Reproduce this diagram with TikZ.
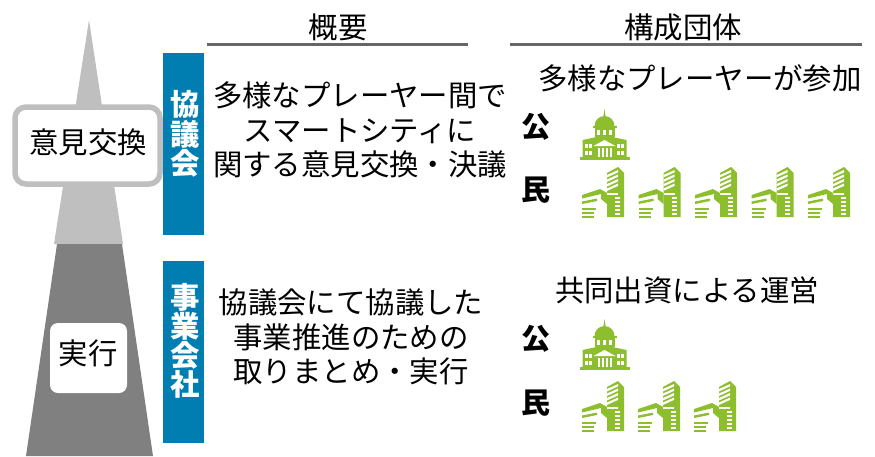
\documentclass[tikz,border=0pt]{standalone}
\usepackage{fontspec}
\setmainfont{Noto Sans CJK JP}
\definecolor{barblue}{HTML}{007EB2}
\definecolor{icongreen}{HTML}{8CBE2E}
\definecolor{lightgrey}{HTML}{BFBFBF}
\definecolor{darkgrey}{HTML}{808080}
\definecolor{rulegrey}{HTML}{666666}
\tikzset{
	jptext/.style={font=\fontsize{29.4}{34.5}\selectfont, align=center, inner sep=0pt},
	bartext/.style={font=\fontsize{29.4}{29.2}\selectfont\bfseries, text=white, align=center, inner sep=0pt},
	kindtext/.style={font=\fontsize{29}{30}\selectfont\bfseries, inner sep=0pt},
	bluebar/.style={fill=barblue},
	headrule/.style={draw=rulegrey, line width=3pt},
	govicon/.pic={
		\fill[icongreen] (-25,-2) rectangle (25,1);
		\fill[icongreen] (-22,-2) -- (-22,-19) -- (-8,-22) -- (8,-22) -- (22,-19) -- (22,-2) -- cycle;
		\fill[icongreen] (-10,-22) rectangle (10,-31);
		\fill[icongreen] (-12,-31) rectangle (12,-33);
		\fill[icongreen] (-10,-33) arc (180:360:10 and 10) -- cycle;
		\fill[icongreen] (-1.2,-42) -- (0,-50) -- (1.2,-42) -- cycle;
		\fill[white] (-11,-13) -- (0,-19) -- (11,-13) -- cycle;
		\foreach \wx in {-6,-2,2,6} \fill[white] (\wx-1,-11) rectangle (\wx+1,-2);
		\foreach \wx in {-18,-14,14,18} {
			\fill[white] (\wx-1.3,-15) rectangle (\wx+1.3,-11);
			\fill[white] (\wx-1.3,-8) rectangle (\wx+1.3,-4);
		}
		\foreach \wx in {-6,0,6} \fill[white] (\wx-1.5,-29) rectangle (\wx+1.5,-24);
	},
	bldgicon/.pic={
		\fill[icongreen] (25,5) -- (36,-1) -- (42,5) -- (42,49) -- (25,49) -- cycle;
		\foreach \sy in {6,10.5,15,19.5} \fill[white] (25,\sy+1) -- (36,\sy-4) -- (36,\sy-1.6) -- (25,\sy+3.4) -- cycle;
		\fill[white] (25,24.5) rectangle (36,26.5);
		\foreach \sy in {29,33,37,41,45} \fill[white] (33,\sy) rectangle (38,\sy+2);
		\fill[icongreen] (0,27) -- (18,21) -- (25,25) -- (25,36) -- (19,31) -- (19,26) -- (0,30.5) -- cycle;
		\fill[icongreen] (0,33.5) -- (15,30.5) -- (15,33) -- (0,36) -- cycle;
		\fill[icongreen] (0,39.5) rectangle (14,41.5);
		\fill[icongreen] (0,44) rectangle (12,46);
		\fill[icongreen] (0,48) rectangle (12,49.5);
	},
}
\begin{document}
\begin{tikzpicture}[x=1pt,y=-1pt]
	\useasboundingbox (0,0) rectangle (875,456);
	% tower
	\fill[lightgrey] (89,20) -- (123,244) -- (54,244) -- cycle;
	\fill[darkgrey] (57,244) -- (122,244) -- (153,456) -- (26,456) -- cycle;
	\draw[draw=lightgrey, fill=white, line width=5.5pt, rounded corners=11pt] (15,107) rectangle (160,184);
	\fill[white, rounded corners=8pt] (50,323) rectangle (127,393);
	\node[jptext] (opinion) at (88,142) {意見交換};
	\node[jptext] (action) at (88,353) {実行};
	% blue bars
	\fill[bluebar] (163,53) rectangle (204,235);
	\fill[bluebar] (163,261) rectangle (204,443);
	\node[bartext] (council) at (185,134) {協\\議\\会};
	\node[bartext] (company) at (185,341) {事\\業\\会\\社};
	% headers
	\node[jptext] (summary) at (338,27) {概要};
	\node[jptext] (members) at (683,27) {構成団体};
	\draw[headrule] (207,44) -- (468,44);
	\draw[headrule] (510,44) -- (862,44);
	% descriptions
	\node[jptext] (councilsummary) at (360,130) {多様なプレーヤー間で\\スマートシティに\\関する意見交換・決議};
	\node[jptext] (companysummary) at (351,337) {協議会にて協議した\\事業推進のための\\取りまとめ・実行};
	\node[jptext] (councilmembers) at (700,78) {多様なプレーヤーが参加};
	\node[jptext] (companymembers) at (687,290) {共同出資による運営};
	% public and private
	\node[kindtext] (publicA) at (536,127) {公};
	\node[kindtext] (privateA) at (536,190) {民};
	\node[kindtext] (publicB) at (536,339) {公};
	\node[kindtext] (privateB) at (536,403) {民};
	\pic at (604.5,159) {govicon};
	\pic at (604.5,369) {govicon};
	\foreach \bx in {582,638.5,695,751.5,808} \pic at (\bx,168) {bldgicon};
	\foreach \bx in {582,638,694} \pic at (\bx,382) {bldgicon};
\end{tikzpicture}
\end{document}
